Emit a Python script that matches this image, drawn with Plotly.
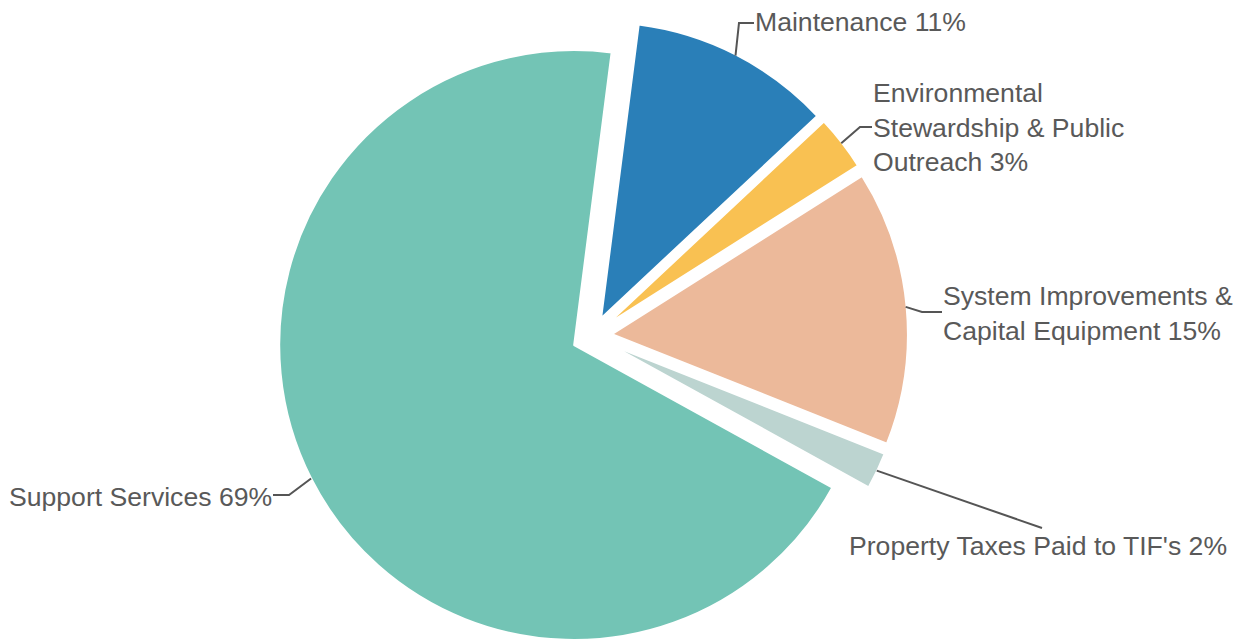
import math
import plotly.graph_objects as go

# slices, clockwise from the top
labels = ["Maintenance",
          "Environmental Stewardship & Public Outreach",
          "System Improvements & Capital Equipment",
          "Property Taxes Paid to TIF's",
          "Support Services"]
values = [11, 3, 15, 2, 69]

# how each label is broken into lines on the chart
label_lines = [["Maintenance"],
               ["Environmental", "Stewardship & Public", "Outreach"],
               ["System Improvements &", "Capital Equipment"],
               ["Property Taxes Paid to TIF's"],
               ["Support Services"]]

colors = ["#2a7fb8", "#f9c152", "#ecb99a", "#bcd4d0", "#73c4b5"]

# layout, in window pixels (window 1244 x 640, the page body adds an 8px margin)
WIN_W, WIN_H = 1244, 640
PAGE = 8
W, H = WIN_W - PAGE, WIN_H - PAGE
CX, CY = 592, 336      # pie centre
R = 296                # radius
OFFSET = 20            # every slice is pulled out this far
ROTATION = 7.3
BORDER = 2

# label text position (x, y, anchor) and the bends of the connector
label_pos = [(753, 22, "left"), (871, 127, "left"), (941, 313, "left"),
             (847, 546, "left"), (274, 497, "right")]
leader_bend = [[(739, 23), (754, 23)],
               [(860, 127), (872, 127)],
               [(922, 312), (942, 312)],
               [(1042, 528)],
               [(289, 495), (273, 495)]]


def px(x, y):
    return (x - PAGE) / W, 1 - (y - PAGE) / H


total = float(sum(values))
fig = go.Figure()
shapes = []
annotations = []
cum = 0.0
for i, v in enumerate(values):
    mid = math.radians(ROTATION + (cum + v / 2.0) / total * 360)
    cum += v
    sx = CX + OFFSET * math.sin(mid)
    sy = CY - OFFSET * math.cos(mid)
    lx0, ly0 = sx - PAGE, sy - PAGE
    r = min(R, lx0, W - lx0, ly0, H - ly0)

    # one pie per slice so each slice can sit on its own pulled-out centre
    fig.add_trace(go.Pie(
        labels=labels,
        values=values,
        sort=False,
        direction="clockwise",
        rotation=ROTATION,
        textinfo="none",
        hoverinfo="none",
        showlegend=False,
        marker=dict(
            colors=[colors[j] if j == i else "rgba(0,0,0,0)" for j in range(len(values))],
            line=dict(color="white",
                      width=[BORDER if j == i else 0 for j in range(len(values))])
        ),
        domain=dict(x=[(lx0 - r) / W, (lx0 + r) / W],
                    y=[1 - (ly0 + r) / H, 1 - (ly0 - r) / H])
    ))

    # connector from the rim of the slice to the label
    start = (sx + (R - BORDER / 2.0) * math.sin(mid), sy - (R - BORDER / 2.0) * math.cos(mid))
    pts = [start] + leader_bend[i]
    path = ""
    for k, (x, y) in enumerate(pts):
        a, b = px(x, y)
        path += ("M" if k == 0 else " L") + " %.5f,%.5f" % (a, b)
    shapes.append(dict(type="path", path=path, xref="paper", yref="paper",
                       line=dict(color="#555555", width=2)))

    lines = list(label_lines[i])
    lines[-1] = "%s %d%%" % (lines[-1], v)
    tx, ty, anchor = label_pos[i]
    ax, ay = px(tx, ty)
    annotations.append(dict(
        x=ax, y=ay, xref="paper", yref="paper",
        text="<br>".join(lines),
        showarrow=False, xanchor=anchor, yanchor="middle", align=anchor,
        font=dict(family="Arial, Liberation Sans, sans-serif", size=26.6, color="#595959")
    ))

fig.update_layout(
    width=W, height=H,
    margin=dict(l=0, r=0, t=0, b=0),
    paper_bgcolor="white",
    plot_bgcolor="white",
    showlegend=False,
    shapes=shapes,
    annotations=annotations
)

fig.write_html("out.html")
